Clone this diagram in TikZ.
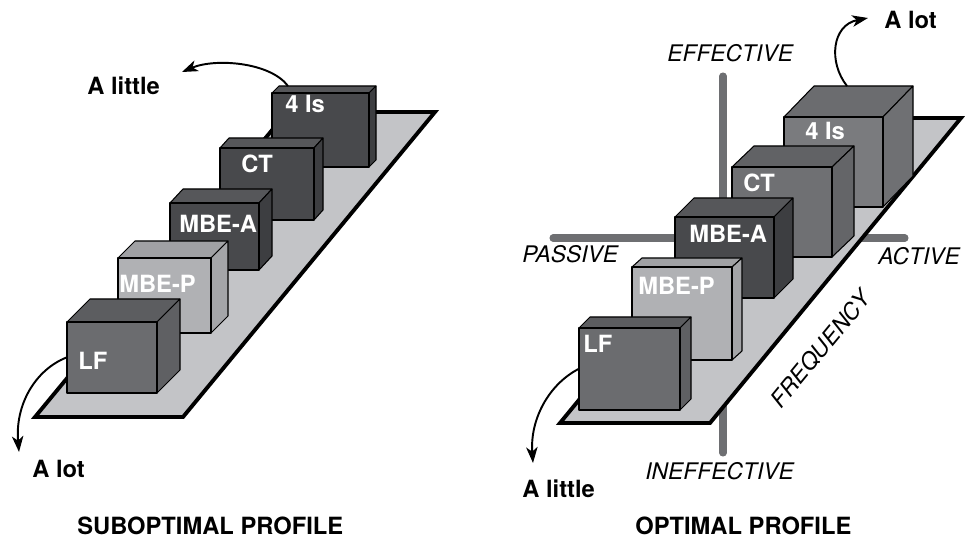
\documentclass[tikz,border=0pt]{standalone}
\usepackage{fontspec}
\setmainfont{TeX Gyre Heros}
\usetikzlibrary{arrows.meta,fit,calc}

% face colours: front, top and side of each cube
\definecolor{deep-front}{HTML}{48494C}
\definecolor{deep-top}{HTML}{56575A}
\definecolor{deep-side}{HTML}{3D3E41}
\definecolor{mid-front}{HTML}{6B6C6F}
\definecolor{mid-top}{HTML}{5C5D60}
\definecolor{mid-side}{HTML}{5F6063}
\definecolor{pale-front}{HTML}{B0B1B4}
\definecolor{pale-top}{HTML}{A0A1A4}
\definecolor{pale-side}{HTML}{A4A5A8}
\definecolor{slate-front}{HTML}{6F7073}
\definecolor{slate-top}{HTML}{616265}
\definecolor{slate-side}{HTML}{646568}
\definecolor{ash-front}{HTML}{7A7B7E}
\definecolor{ash-top}{HTML}{6B6C6F}
\definecolor{ash-side}{HTML}{6F7073}
\definecolor{deckgray}{HTML}{C3C4C7}
\definecolor{axisgray}{HTML}{6E6F72}

% \cube{name}{top left}{bottom right}{depth}{tone}
\newcommand{\cube}[5]{%
  \coordinate (#1nw) at (#2);
  \coordinate (#1se) at (#3);
  \coordinate (#1ne) at (#1nw -| #1se);
  \filldraw[boxline, fill=#5-top] (#1nw) -- ++(#4) -- ($(#1ne)+(#4)$) -- (#1ne) -- cycle;
  \filldraw[boxline, fill=#5-side] (#1ne) -- ++(#4) -- ($(#1se)+(#4)$) -- (#1se) -- cycle;
  \node[face, fill=#5-front, fit=(#1nw)(#1se)] (#1) {};
}

\begin{document}
\begin{tikzpicture}
  [x=0.02cm, y=-0.02cm,
   every node/.style={inner sep=0pt, font=\fontsize{13}{15}\selectfont},
   boxline/.style={draw=black, line width=0.6pt, line join=round},
   face/.style={boxline},
   deck/.style={fill=deckgray, draw=black, line width=2.2pt, line join=miter},
   axisbar/.style={draw=axisgray, line width=4pt, line cap=round},
   tag/.style={anchor=base west, text=white, font=\fontsize{13.5}{15}\selectfont\bfseries},
   note/.style={anchor=base west, font=\fontsize{13.5}{15}\selectfont\bfseries},
   pole/.style={anchor=base west, font=\fontsize{13}{15}\selectfont\itshape},
   curvedarrow/.style={draw, line width=1.1pt, -{Stealth[length=9pt, width=6.5pt, inset=2.5pt]}}]
  \useasboundingbox (0,0) rectangle (965,540);

  % suboptimal profile
  \filldraw[deck] (35,417) -- (183,417) -- (435,112) -- (287,112) -- cycle;
  \cube{fourL}{272,93}{369,167}{7,-7}{deep}
  \cube{ctL}{220,148}{314,220}{9,-10}{deep}
  \cube{mbeaL}{170,203}{259,270}{13,-14}{deep}
  \cube{mbepL}{118,258}{211,333}{17,-17}{pale}
  \cube{lfL}{67,322}{157,393}{23,-23}{mid}
  \node[tag] (fourLtag) at (285,113) {4 Is};
  \node[tag] (ctLtag) at (241,173) {CT};
  \node[tag] (mbeaLtag) at (179,233) {MBE-A};
  \node[tag] (mbepLtag) at (119,293) {MBE-P};
  \node[tag] (lfLtag) at (78,370) {LF};

  \node[note] (littleL) at (87,95) {A little};
  \node[note] (lotL) at (32,478) {A lot};
  \coordinate (littleLtip) at (182,72);
  \coordinate (fourLtop) at (288,86);
  \coordinate (lotLtip) at (19,452);
  \draw[curvedarrow] (fourLtop) .. controls (270,62) and (215,58) .. (littleLtip);
  \draw[curvedarrow] (lfL.west) .. controls (35,370) and (15,405) .. (lotLtip);

  \node[note] (subTitle) at (77,535) {SUBOPTIMAL PROFILE};

  % optimal profile
  \coordinate (effTop) at (723,76);
  \coordinate (effBot) at (723,453);
  \coordinate (actLeft) at (553,238);
  \coordinate (actRight) at (905,238);
  \draw[axisbar] (effTop) -- (effBot);
  \draw[axisbar] (actLeft) -- (actRight);
  \filldraw[deck] (560,423) -- (710,423) -- (961,118) -- (811,118) -- cycle;
  \cube{fourR}{784,117}{883,207}{30,-31}{ash}
  \cube{ctR}{732,167}{832,257}{22,-21}{slate}
  \cube{mbeaR}{675,217}{774,298}{19,-19}{deep}
  \cube{mbepR}{632,267}{732,360}{10,-9}{pale}
  \cube{lfR}{579,328}{680,410}{11,-11}{mid}
  \node[tag] (fourRtag) at (805,140) {4 Is};
  \node[tag] (ctRtag) at (743,192) {CT};
  \node[tag] (mbeaRtag) at (689,243) {MBE-A};
  \node[tag] (mbepRtag) at (638,295) {MBE-P};
  \node[tag] (lfRtag) at (583,353) {LF};

  \node[pole] (effective) at (667,62) {EFFECTIVE};
  \node[pole] (ineffective) at (645,480) {INEFFECTIVE};
  \node[pole] (passive) at (522,263) {PASSIVE};
  \node[pole] (active) at (878,265) {ACTIVE};
  \node[font=\fontsize{13}{15}\selectfont\itshape, rotate=50.5] (frequency) at (821,349) {FREQUENCY};

  \node[note] (lotR) at (884,29) {A lot};
  \node[note] (littleR) at (522,498) {A little};
  \coordinate (fourRtop) at (847,86);
  \coordinate (lotRtip) at (868,18);
  \coordinate (littleRtip) at (533,463);
  \draw[curvedarrow] (fourRtop) .. controls (828,62) and (832,25) .. (lotRtip);
  \draw[curvedarrow] (lfR.west) .. controls (548,385) and (530,420) .. (littleRtip);

  \node[note] (optTitle) at (635,535) {OPTIMAL PROFILE};
\end{tikzpicture}
\end{document}
